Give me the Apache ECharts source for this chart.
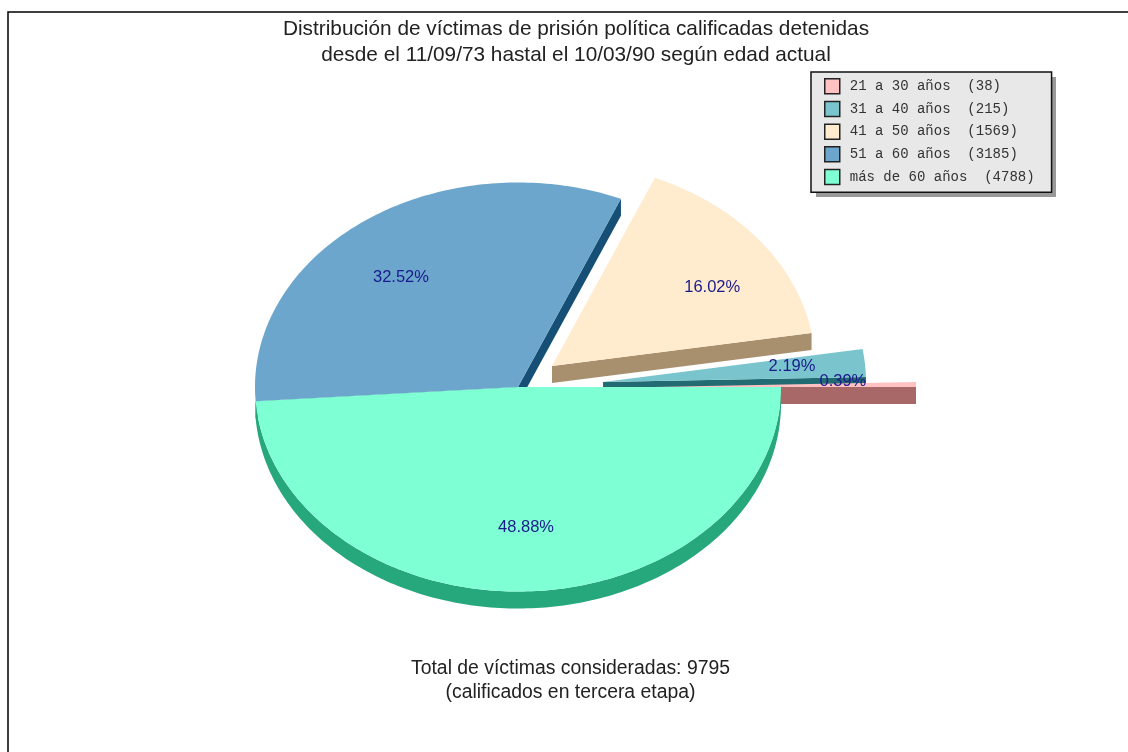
<!DOCTYPE html>
<html>
<head>
<meta charset="utf-8">
<title>Distribución de víctimas</title>
<style>
html, body { margin: 0; padding: 0; background: #fff; }
#chart { width: 1128px; height: 752px; }
</style>
<script src="https://cdn.jsdelivr.net/npm/echarts@6/dist/echarts.min.js"></script>
</head>
<body>
<div id="chart"></div>
<script>
// datos
var ageGroups = ['21 a 30 años', '31 a 40 años', '41 a 50 años', '51 a 60 años', 'más de 60 años'];
var victims = [38, 215, 1569, 3185, 4788];

// colores
var topColors = ['#FFC1C1', '#7AC5CD', '#FFEBCD', '#6CA6CD', '#7FFFD4'];
var wallColors = ['#A86868', '#236B73', '#A8906E', '#154F75', '#27A87C'];

// geometria de la torta
var cx = 518, cy = 387, rx = 263, ry = 204.5, depth = 17;
var explode = [[135, 0], [85, -5], [34, -21], [0, 0], [0, 0]];
var labelNudge = [[-10, -4], [-10, -3], [3, 6], [-1, 2], [1, 4]];
// orden de dibujo: atras azul, adelante verde
var drawOrder = [5, 4, 3, 2, 6];

var total = victims.reduce(function (a, b) { return a + b; }, 0);

// angulos de inicio de cada porcion, antihorario desde la derecha
var startAngles = [];
victims.reduce(function (acc, v, i) {
    startAngles[i] = acc;
    return acc + v / total * 360;
}, 0);

function slicePoints(i, ox, oy) {
    var from = startAngles[i];
    var to = from + victims[i] / total * 360;
    var pts = [[ox, oy]];
    var n = Math.max(2, Math.ceil(to - from));
    for (var k = 0; k <= n; k++) {
        var a = (from + (to - from) * k / n) * Math.PI / 180;
        pts.push([ox + rx * Math.cos(a), oy - ry * Math.sin(a)]);
    }
    return pts;
}

// una franja por cada tramo seguido de bordes que miran hacia adelante
function wallPolygons(pts, isFront) {
    var runs = [];
    var run = null;
    pts.forEach(function (p, k) {
        var q = pts[(k + 1) % pts.length];
        var touchesCenter = k === 0 || k === pts.length - 1;
        if (q[0] > p[0] && (isFront || touchesCenter)) {
            if (!run) {
                run = [p];
                runs.push(run);
            }
            run.push(q);
        } else {
            run = null;
        }
    });
    return runs.map(function (r) {
        var lower = r.slice().reverse().map(function (p) { return [p[0], p[1] + depth]; });
        return r.concat(lower);
    });
}

function renderSlice(i) {
    return function () {
        var ox = cx + explode[i][0];
        var oy = cy + explode[i][1];
        var pts = slicePoints(i, ox, oy);
        var mid = startAngles[i] + victims[i] / total * 180;
        var children = wallPolygons(pts, mid > 180).map(function (poly) {
            return {
                type: 'polygon',
                shape: { points: poly },
                style: { fill: wallColors[i] }
            };
        });
        children.push({
            type: 'polygon',
            shape: { points: pts },
            style: { fill: topColors[i] }
        });

        // porcentaje
        var rad = mid * Math.PI / 180;
        children.push({
            type: 'text',
            x: ox + 0.76 * rx * Math.cos(rad) + labelNudge[i][0],
            y: oy - 0.67 * ry * Math.sin(rad) + labelNudge[i][1],
            z2: 10,
            style: {
                text: (victims[i] / total * 100).toFixed(2) + '%',
                fill: '#1A1A8C',
                font: '16.5px "Liberation Sans"',
                align: 'center',
                verticalAlign: 'middle'
            }
        });
        return { type: 'group', children: children };
    };
}

var legendNames = ageGroups.map(function (g, i) {
    return g + '  (' + victims[i] + ')';
});

var myChart = echarts.init(document.getElementById('chart'));
var option = {
    animation: false,
    backgroundColor: '#fff',
    title: [{
        text: 'Distribución de víctimas de prisión política calificadas detenidas\ndesde el 11/09/73 hastal el 10/03/90 según edad actual',
        left: 571,
        top: 11,
        textAlign: 'center',
        textStyle: {
            fontFamily: 'Liberation Sans',
            fontSize: 20.8,
            fontWeight: 'normal',
            color: '#222',
            lineHeight: 26
        }
    }, {
        text: 'Total de víctimas consideradas: 9795\n(calificados en tercera etapa)',
        left: 565.5,
        top: 652,
        textAlign: 'center',
        textStyle: {
            fontFamily: 'Liberation Sans',
            fontSize: 19.4,
            fontWeight: 'normal',
            color: '#222',
            lineHeight: 24
        }
    }],
    legend: {
        orient: 'vertical',
        left: 811,
        top: 72,
        z: 20,
        icon: 'rect',
        itemWidth: 15,
        itemHeight: 15,
        itemGap: 6.2,
        padding: [6, 17, 7, 13],
        backgroundColor: '#E8E8E8',
        borderColor: '#111',
        borderWidth: 1.5,
        selectedMode: false,
        itemStyle: { borderColor: '#222', borderWidth: 1.5 },
        textStyle: {
            fontFamily: 'Liberation Mono',
            fontSize: 14,
            color: '#333',
            padding: [0, 0, 0, 5]
        },
        data: legendNames
    },
    graphic: [{
        // marco: solo se ven los lados izquierdo y superior
        type: 'rect',
        shape: { x: 8, y: 12, width: 1300, height: 900 },
        style: { fill: 'none', stroke: '#000', lineWidth: 1.5 },
        silent: true
    }, {
        // sombra de la leyenda
        type: 'rect',
        shape: { x: 816, y: 77, width: 240, height: 120 },
        style: { fill: '#999' },
        z: 10,
        silent: true
    }],
    series: legendNames.map(function (name, i) {
        return {
            type: 'custom',
            name: name,
            coordinateSystem: 'none',
            silent: true,
            z: drawOrder[i],
            itemStyle: { color: topColors[i] },
            renderItem: renderSlice(i),
            data: [[victims[i]]]
        };
    })
};
myChart.setOption(option);
</script>
</body>
</html>
